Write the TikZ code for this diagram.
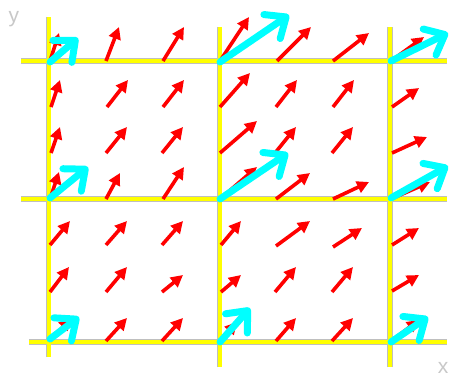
\documentclass[tikz,border=0pt]{standalone}
\usepackage{fontspec}
\setmainfont{Liberation Sans}
\usetikzlibrary{arrows.meta}
\definecolor{fieldred}{RGB}{255,0,0}
\definecolor{fieldcyan}{RGB}{0,255,255}
\definecolor{gridyellow}{RGB}{255,255,0}
\definecolor{labelgray}{RGB}{200,200,200}
\begin{document}
\begin{tikzpicture}[x=1pt,y=-1pt,
  gridedge/.style={line width=5.6pt, draw=gray!50},
  gridfill/.style={line width=4pt, draw=gridyellow},
  redarrow/.style={draw=fieldred, line width=3.6pt, -{Triangle[length=12pt,width=12pt]}},
  cyanarrow/.style={draw=fieldcyan, line width=7pt, line cap=round,
     -{Straight Barb[length=17pt,width=29pt,round,line width=7pt]}},
  axislabel/.style={text=labelgray, font=\fontsize{21}{21}\selectfont, inner sep=0pt}]
\useasboundingbox (0,0) rectangle (449,378);
% grid
\foreach \a/\b/\c/\d in {21/61/447/61, 21/199/447/199, 29/342/447/342,
                         48.5/17/48.5/357, 219.5/27/219.5/367, 390/27/390/367}
  \draw[gridedge] (\a,\b) -- (\c,\d);
\foreach \a/\b/\c/\d in {21/61/447/61, 21/199/447/199, 29/342/447/342,
                         48.5/17/48.5/357, 219.5/27/219.5/367, 390/27/390/367}
  \draw[gridfill] (\a,\b) -- (\c,\d);
% red field arrows
\foreach \x/\y/\dx/\dy in {
  50/61/9/-28, 106/61/13/-34, 163/61/21/-34, 220/61/29/-44, 277/61/34/-34, 333/61/36/-28, 391/61/33/-24,
  51/107/9/-27, 107/107/21/-27, 163/107/21/-27, 220/107/30/-34, 276/107/21/-27, 333/107/21/-27, 392/107/27/-19,
  51/153/9/-26, 106/153/21/-26, 162/153/21/-26, 220/153/37/-32, 275/153/21/-26, 332/153/21/-26, 392/153/35/-16,
  50/199/9/-27, 106/199/14/-26, 163/199/21/-32, 220/199/37/-32, 276/199/34/-26, 333/199/36/-17, 391/199/39/-17,
  50/245/20/-24, 106/245/21/-24, 162/245/21/-24, 221/245/20/-24, 276/246/34/-25, 333/247/29/-19, 392/245/27/-17,
  50/292/19/-25, 106/292/21/-25, 162/292/21/-17, 221/292/20/-17, 275/292/21/-25, 332/292/21/-25, 392/291/27/-16,
  50/341/21/-23, 106/341/21/-23, 162/341/21/-23, 220/341/17/-19, 276/341/20/-23, 332/341/21/-23, 391/341/28/-21}
  \draw[redarrow] (\x,\y) -- ++(\dx,\dy);
% cyan arrows at grid crossings
\foreach \x/\y/\dx/\dy in {
  50/62/28/-24, 220/62/69/-47, 391/61/57/-28,
  50/198/38/-31, 220/199/68/-46, 391/198/57/-32,
  50/339/29/-22, 220/342/30/-34, 391/342/37/-25}
  \draw[cyanarrow] (\x,\y) -- ++(\dx,\dy);
% axis labels
\node[axislabel] (ylab) at (14,19) {y};
\node[axislabel] (xlab) at (443,368) {x};
\end{tikzpicture}
\end{document}
